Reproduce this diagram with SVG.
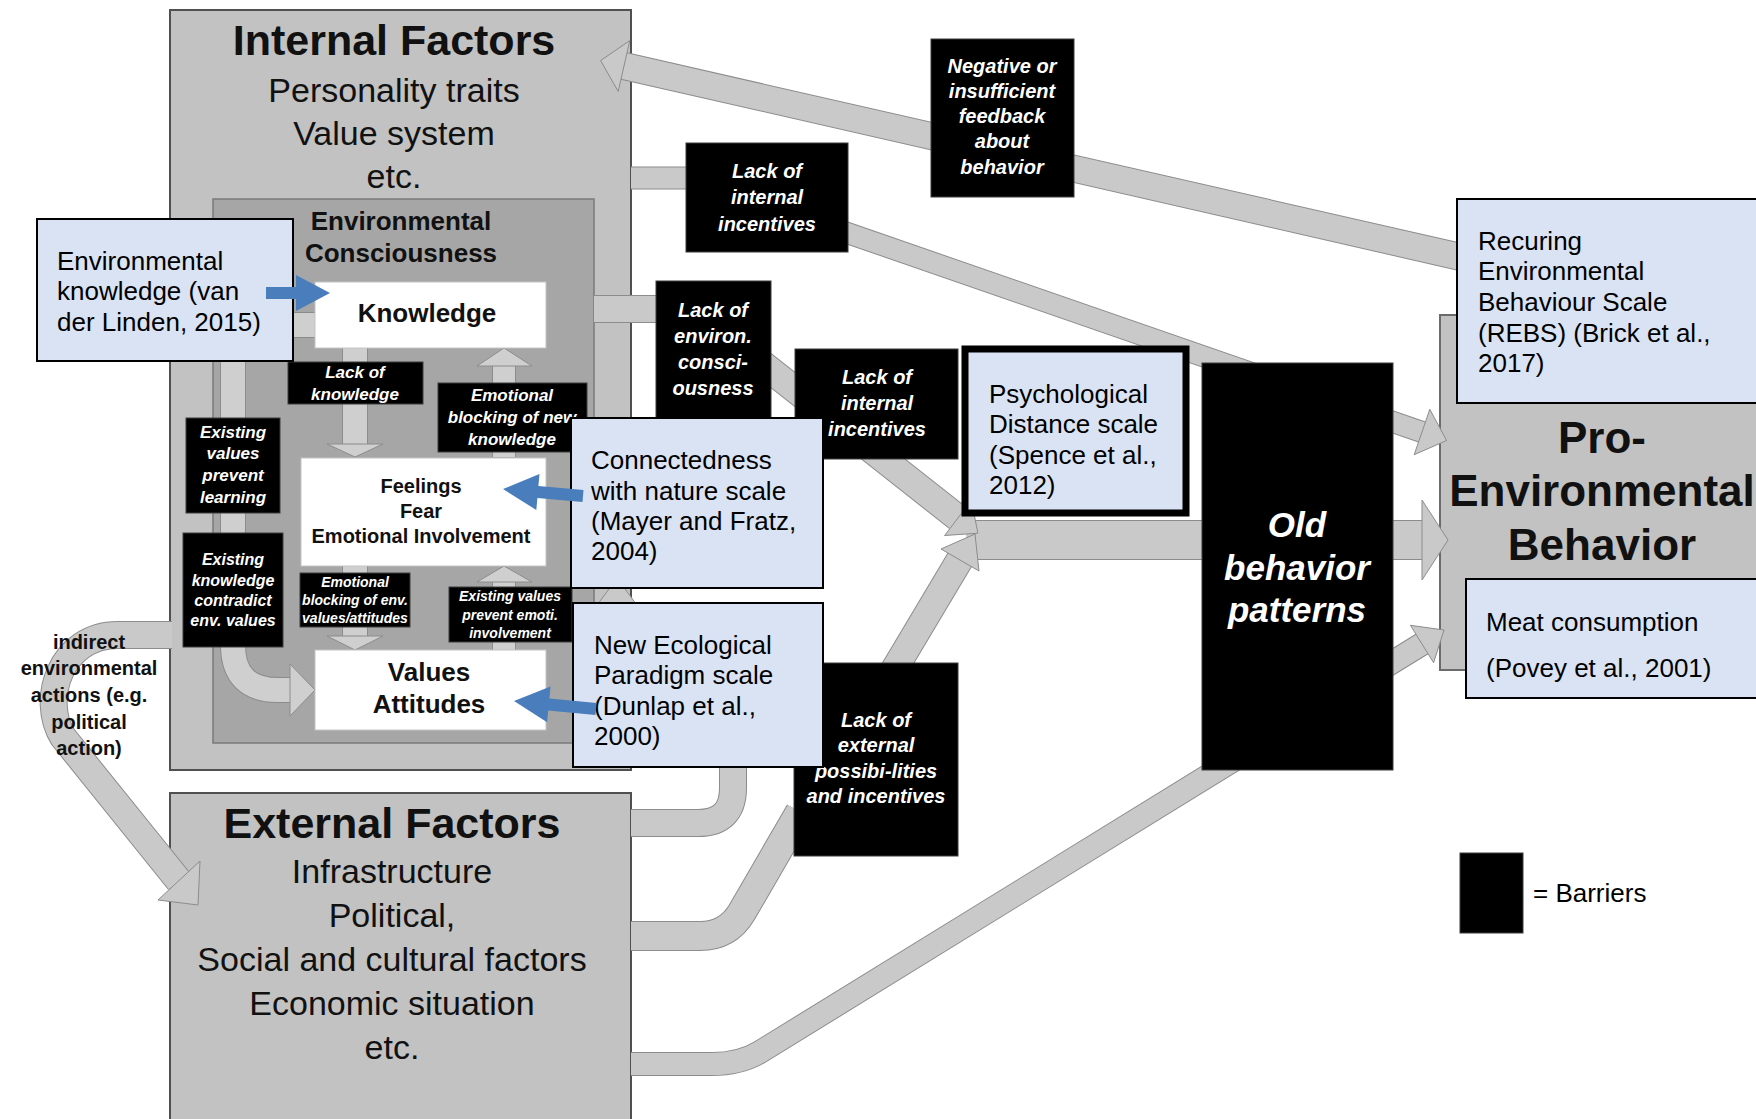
<svg xmlns="http://www.w3.org/2000/svg" xmlns:xlink="http://www.w3.org/1999/xlink" width="1756" height="1119" viewBox="0 0 1756 1119">
<style>
.grey{fill:#c2c2c2;stroke:#505050;stroke-width:2}
.env{fill:#a6a6a6;stroke:#7a7a7a;stroke-width:1.5}
.white{fill:#fff;stroke:#c4c4c4;stroke-width:1}
.barrier{fill:#000;stroke:#3c3c3c;stroke-width:1}
.callout{fill:#dae3f3;stroke:#000;stroke-width:2}
.be{fill:none;stroke:#8c8c8c}
.bf{fill:none;stroke:#c9c9c9}
.bi{fill:none;stroke:#cfcfcf}
.head{fill:#c9c9c9;stroke:#8c8c8c;stroke-width:1}
.blue{fill:#4a7dbb}
text{font-family:"Liberation Sans",Arial,sans-serif}
.tt{font-size:43px;font-weight:bold;fill:#111;text-anchor:middle}
.ts{font-size:34px;fill:#111;text-anchor:middle}
.tb{font-size:26px;font-weight:bold;fill:#111;text-anchor:middle}
.tw{font-weight:bold;font-style:italic;fill:#fff;text-anchor:middle}
.tc{font-size:26px;fill:#000}
</style>
<defs>
<path id="p-feedback" d="M1500,266 L624,66"/>
<path id="p-inc1a" d="M631,178 H692"/>
<path id="p-inc1b" d="M830,227 L1422,432"/>
<path id="p-env1" d="M594,309 H662"/>
<path id="p-env2" d="M750,354 L958,518"/>
<path id="p-main" d="M966,540 H1424"/>
<path id="p-ext-up" d="M888,680 L962,556"/>
<path id="p-ext1" d="M631,823 H698 Q733,823 733,788 V700 L617,612"/>
<path id="p-ext2" d="M631,936 H700 Q728,936 742,912 L800,812"/>
<path id="p-ext3" d="M631,1064 H712 Q740,1064 760,1052 L1422,644"/>
<path id="p-indirect" d="M172,635 H118 C60,635 40,700 63,737 L179,881"/>
<path id="p-k2v" d="M315,325 H270 Q233,325 233,362 V645 Q233,690 278,690 H292"/>
<path id="p-k2f" d="M355,348 V446"/>
<path id="p-f2k" d="M504,457 V364"/>
<path id="p-f2v" d="M355,566 V638"/>
<path id="p-v2f" d="M504,650 V582"/>
</defs>

<g id="internal-factors">
<rect class="grey" x="170" y="10" width="461" height="760"/>
<text class="tt" x="394" y="55">Internal Factors</text>
<text class="ts" x="394" y="102">Personality traits</text>
<text class="ts" x="394" y="145">Value system</text>
<text class="ts" x="394" y="188">etc.</text>
</g>
<g id="environmental-consciousness">
<rect class="env" x="213" y="199" width="381" height="544"/>
<text class="tb" x="401" y="230">Environmental</text>
<text class="tb" x="401" y="262">Consciousness</text>
</g>
<g id="external-factors">
<rect class="grey" x="170" y="793" width="461" height="340"/>
<text class="tt" x="392" y="838">External Factors</text>
<text class="ts" x="392" y="883">Infrastructure</text>
<text class="ts" x="392" y="927">Political,</text>
<text class="ts" x="392" y="971">Social and cultural factors</text>
<text class="ts" x="392" y="1015">Economic situation</text>
<text class="ts" x="392" y="1059">etc.</text>
</g>
<g id="pro-environmental-behavior">
<rect x="1440" y="315" width="330" height="355" fill="#c2c2c2" stroke="#6b6b6b" stroke-width="2"/>
<text class="tt" x="1602" y="453" style="font-size:44px">Pro-</text>
<text class="tt" x="1602" y="506" style="font-size:44px">Environmental</text>
<text class="tt" x="1602" y="560" style="font-size:44px">Behavior</text>
</g>

<g id="connectors">
<use xlink:href="#p-feedback" class="be" stroke-width="28"/><use xlink:href="#p-feedback" class="bf" stroke-width="26"/>
<polygon class="head" points="629.8,40.6 600.6,60.6 618.2,91.4"/>
<use xlink:href="#p-inc1a" class="be" stroke-width="23"/><use xlink:href="#p-inc1a" class="bf" stroke-width="21"/>
<use xlink:href="#p-inc1b" class="be" stroke-width="22"/><use xlink:href="#p-inc1b" class="bf" stroke-width="20"/>
<polygon class="head" points="1429.8,409.3 1446.6,440.5 1414.2,454.7"/>
<use xlink:href="#p-env1" class="be" stroke-width="28"/><use xlink:href="#p-env1" class="bf" stroke-width="26"/>
<use xlink:href="#p-env2" class="be" stroke-width="28"/><use xlink:href="#p-env2" class="bf" stroke-width="26"/>
<use xlink:href="#p-main" class="be" stroke-width="40"/><use xlink:href="#p-main" class="bf" stroke-width="38"/>
<polygon class="head" points="1422,500 1448,540 1422,580"/>
<use xlink:href="#p-ext-up" class="be" stroke-width="28"/><use xlink:href="#p-ext-up" class="bf" stroke-width="26"/>
<polygon class="head" points="979,571 975,534 941,549"/>
<polygon class="head" points="944.6,535.5 977.9,533.2 971.4,500.5"/>
<use xlink:href="#p-ext1" class="be" stroke-width="28"/><use xlink:href="#p-ext1" class="bf" stroke-width="26"/>
<polygon class="head" points="592,612 617,578 642,612"/>
<use xlink:href="#p-ext2" class="be" stroke-width="30"/><use xlink:href="#p-ext2" class="bf" stroke-width="28"/>
<use xlink:href="#p-ext3" class="be" stroke-width="24"/><use xlink:href="#p-ext3" class="bf" stroke-width="22"/>
<polygon class="head" points="1410.4,625.3 1444,630 1433.6,662.7"/>
<use xlink:href="#p-indirect" class="be" stroke-width="28"/><use xlink:href="#p-indirect" class="bf" stroke-width="26"/>
<polygon class="head" points="200,861 198,905 158,900"/>
<use xlink:href="#p-k2v" class="be" stroke-width="26"/><use xlink:href="#p-k2v" class="bi" stroke-width="24"/>
<polygon class="head" points="290,664 315,690 290,716" style="fill:#cfcfcf"/>
<use xlink:href="#p-k2f" class="be" stroke-width="26"/><use xlink:href="#p-k2f" class="bi" stroke-width="24"/>
<polygon class="head" points="327,444 355,457 383,444" style="fill:#cfcfcf"/>
<use xlink:href="#p-f2k" class="be" stroke-width="24"/><use xlink:href="#p-f2k" class="bi" stroke-width="22"/>
<polygon class="head" points="477,366 504,348 532,366" style="fill:#cfcfcf"/>
<use xlink:href="#p-f2v" class="be" stroke-width="26"/><use xlink:href="#p-f2v" class="bi" stroke-width="24"/>
<polygon class="head" points="327,636 355,650 383,636" style="fill:#cfcfcf"/>
<use xlink:href="#p-v2f" class="be" stroke-width="24"/><use xlink:href="#p-v2f" class="bi" stroke-width="22"/>
<polygon class="head" points="477,582 504,566 532,582" style="fill:#cfcfcf"/>
<g font-size="20" font-weight="bold" fill="#111" text-anchor="middle">
<text x="89" y="649">indirect</text>
<text x="89" y="675">environmental</text>
<text x="89" y="702">actions (e.g.</text>
<text x="89" y="729">political</text>
<text x="89" y="755">action)</text>
</g>
</g>

<g id="knowledge">
<rect class="white" x="315" y="282" width="231" height="66"/>
<text class="tb" x="427" y="322">Knowledge</text>
</g>
<g id="feelings">
<rect class="white" x="301" y="458" width="245" height="108"/>
<text class="tb" x="421" y="493" style="font-size:20px">Feelings</text>
<text class="tb" x="421" y="518" style="font-size:20px">Fear</text>
<text class="tb" x="421" y="543" style="font-size:20px">Emotional Involvement</text>
</g>
<g id="values-attitudes">
<rect class="white" x="315" y="650" width="231" height="80"/>
<text class="tb" x="429" y="681">Values</text>
<text class="tb" x="429" y="713">Attitudes</text>
</g>

<g id="barrier-lack-of-knowledge">
<rect class="barrier" x="288" y="362" width="135" height="42"/>
<text class="tw" x="355" y="378" font-size="17">Lack of</text>
<text class="tw" x="355" y="400" font-size="17">knowledge</text>
</g>
<g id="barrier-emotional-blocking-new-knowledge">
<rect class="barrier" x="438" y="383" width="149" height="69"/>
<text class="tw" x="512" y="401" font-size="17">Emotional</text>
<text class="tw" x="512" y="423" font-size="17">blocking of new</text>
<text class="tw" x="512" y="445" font-size="17">knowledge</text>
</g>
<g id="barrier-existing-values-prevent-learning">
<rect class="barrier" x="186" y="418" width="94" height="95"/>
<text class="tw" x="233" y="438" font-size="17">Existing</text>
<text class="tw" x="233" y="459" font-size="17">values</text>
<text class="tw" x="233" y="481" font-size="17">prevent</text>
<text class="tw" x="233" y="503" font-size="17">learning</text>
</g>
<g id="barrier-existing-knowledge-contradict">
<rect class="barrier" x="183" y="533" width="100" height="114"/>
<text class="tw" x="233" y="565" font-size="16">Existing</text>
<text class="tw" x="233" y="586" font-size="16">knowledge</text>
<text class="tw" x="233" y="606" font-size="16">contradict</text>
<text class="tw" x="233" y="626" font-size="16">env. values</text>
</g>
<g id="barrier-emotional-blocking-values">
<rect class="barrier" x="300" y="573" width="110" height="54"/>
<text class="tw" x="355" y="587" font-size="14">Emotional</text>
<text class="tw" x="355" y="605" font-size="14">blocking of env.</text>
<text class="tw" x="355" y="623" font-size="14">values/attitudes</text>
</g>
<g id="barrier-existing-values-prevent-involvement">
<rect class="barrier" x="449" y="587" width="123" height="55"/>
<text class="tw" x="510" y="601" font-size="14">Existing values</text>
<text class="tw" x="510" y="620" font-size="14">prevent emoti.</text>
<text class="tw" x="510" y="638" font-size="14">involvement</text>
</g>
<g id="barrier-lack-internal-incentives-1">
<rect class="barrier" x="686" y="143" width="162" height="109"/>
<text class="tw" x="767" y="178" font-size="20">Lack of</text>
<text class="tw" x="767" y="204" font-size="20">internal</text>
<text class="tw" x="767" y="231" font-size="20">incentives</text>
</g>
<g id="barrier-negative-feedback">
<rect class="barrier" x="931" y="39" width="143" height="158"/>
<text class="tw" x="1002" y="73" font-size="20">Negative or</text>
<text class="tw" x="1002" y="98" font-size="20">insufficient</text>
<text class="tw" x="1002" y="123" font-size="20">feedback</text>
<text class="tw" x="1002" y="148" font-size="20">about</text>
<text class="tw" x="1002" y="174" font-size="20">behavior</text>
</g>
<g id="barrier-lack-environ-consciousness">
<rect class="barrier" x="656" y="281" width="115" height="139"/>
<text class="tw" x="713" y="317" font-size="20">Lack of</text>
<text class="tw" x="713" y="343" font-size="20">environ.</text>
<text class="tw" x="713" y="369" font-size="20">consci-</text>
<text class="tw" x="713" y="395" font-size="20">ousness</text>
</g>
<g id="barrier-lack-internal-incentives-2">
<rect class="barrier" x="795" y="349" width="163" height="110"/>
<text class="tw" x="877" y="384" font-size="20">Lack of</text>
<text class="tw" x="877" y="410" font-size="20">internal</text>
<text class="tw" x="877" y="436" font-size="20">incentives</text>
</g>
<g id="barrier-lack-external">
<rect class="barrier" x="794" y="663" width="164" height="193"/>
<text class="tw" x="876" y="727" font-size="20">Lack of</text>
<text class="tw" x="876" y="752" font-size="20">external</text>
<text class="tw" x="876" y="778" font-size="20">possibi-lities</text>
<text class="tw" x="876" y="803" font-size="20">and incentives</text>
</g>
<g id="old-behavior-patterns">
<rect class="barrier" x="1202" y="363" width="191" height="407"/>
<text class="tw" x="1297" y="537" font-size="35">Old</text>
<text class="tw" x="1297" y="580" font-size="35">behavior</text>
<text class="tw" x="1297" y="622" font-size="35">patterns</text>
</g>
<g id="legend">
<rect class="barrier" x="1460" y="853" width="63" height="80"/>
<text class="tc" x="1533" y="902" fill="#222">= Barriers</text>
</g>

<g id="callout-env-knowledge">
<rect class="callout" x="37" y="219" width="256" height="142"/>
<text class="tc" x="57" y="270">Environmental</text>
<text class="tc" x="57" y="300">knowledge (van</text>
<text class="tc" x="57" y="331">der Linden, 2015)</text>
</g>
<g id="callout-connectedness">
<rect class="callout" x="571" y="418" width="252" height="170"/>
<text class="tc" x="591" y="469">Connectedness</text>
<text class="tc" x="591" y="500">with nature scale</text>
<text class="tc" x="591" y="530">(Mayer and Fratz,</text>
<text class="tc" x="591" y="560">2004)</text>
</g>
<g id="callout-new-ecological">
<rect class="callout" x="573" y="603" width="250" height="164"/>
<text class="tc" x="594" y="654">New Ecological</text>
<text class="tc" x="594" y="684">Paradigm scale</text>
<text class="tc" x="594" y="715">(Dunlap et al.,</text>
<text class="tc" x="594" y="745">2000)</text>
</g>
<g id="callout-psychological-distance">
<rect class="callout" x="965" y="349" width="221" height="164" style="stroke-width:7"/>
<text class="tc" x="989" y="403">Psychological</text>
<text class="tc" x="989" y="433">Distance scale</text>
<text class="tc" x="989" y="464">(Spence et al.,</text>
<text class="tc" x="989" y="494">2012)</text>
</g>
<g id="callout-rebs">
<rect class="callout" x="1457" y="199" width="310" height="204"/>
<text class="tc" x="1478" y="250">Recuring</text>
<text class="tc" x="1478" y="280">Environmental</text>
<text class="tc" x="1478" y="311">Behaviour Scale</text>
<text class="tc" x="1478" y="342">(REBS) (Brick et al.,</text>
<text class="tc" x="1478" y="372">2017)</text>
</g>
<g id="callout-meat">
<rect class="callout" x="1466" y="579" width="300" height="119"/>
<text class="tc" x="1486" y="631">Meat consumption</text>
<text class="tc" x="1486" y="677">(Povey et al., 2001)</text>
</g>

<g id="callout-links">
<polygon class="blue" points="266,287 296,287 296,275 330,293 296,311 296,299 266,299"/>
<polygon class="blue" points="583.5,490 538.4,486.1 539.5,474.1 503,489 536.3,510 537.4,498 582.5,502"/>
<polygon class="blue" points="596.6,703 549.4,698.4 550.5,686.5 514,701 547.1,722.3 548.2,710.4 595.4,715"/>
</g>
</svg>
